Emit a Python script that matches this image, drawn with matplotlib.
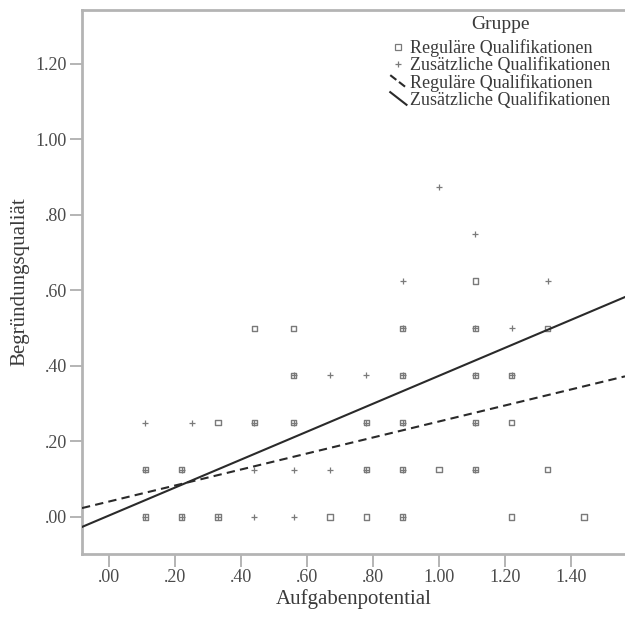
import numpy as np
import matplotlib
matplotlib.use("Agg")
import matplotlib.pyplot as plt
from matplotlib.lines import Line2D
from matplotlib.legend_handler import HandlerBase

plt.rcParams['font.family'] = ['Liberation Serif', 'DejaVu Serif']

# Reguläre Qualifikationen (hollow squares)
reg_x = [0.11, 0.22, 0.33, 0.89, 0.67, 0.78, 1.22, 1.44,
         0.11, 0.22, 0.78, 0.89, 1.11, 1.00, 1.33,
         0.44, 0.56, 0.78, 0.89, 1.11, 0.33, 1.22,
         0.56, 0.89, 1.11, 1.22,
         0.89, 1.11, 0.44, 0.56, 1.33,
         1.11]
reg_y = [0.000, 0.000, 0.000, 0.000, 0.000, 0.000, 0.000, 0.000,
         0.125, 0.125, 0.125, 0.125, 0.125, 0.125, 0.125,
         0.250, 0.250, 0.250, 0.250, 0.250, 0.250, 0.250,
         0.375, 0.375, 0.375, 0.375,
         0.500, 0.500, 0.500, 0.500, 0.500,
         0.625]

# Zusätzliche Qualifikationen (plus signs)
zus_x = [0.11, 0.22, 0.33, 0.89, 0.44, 0.56,
         0.11, 0.22, 0.78, 0.89, 1.11, 0.44, 0.56, 0.67,
         0.44, 0.56, 0.78, 0.89, 1.11, 0.11, 0.25,
         0.56, 0.89, 1.11, 1.22, 0.67, 0.78,
         0.89, 1.11, 1.22,
         0.89, 1.33,
         1.11,
         1.00]
zus_y = [0.000, 0.000, 0.000, 0.000, 0.000, 0.000,
         0.125, 0.125, 0.125, 0.125, 0.125, 0.125, 0.125, 0.125,
         0.250, 0.250, 0.250, 0.250, 0.250, 0.250, 0.250,
         0.375, 0.375, 0.375, 0.375, 0.375, 0.375,
         0.500, 0.500, 0.500,
         0.625, 0.625,
         0.750,
         0.875]

# linear fit lines (intercept, slope)
reg_fit = (0.041, 0.212)
zus_fit = (0.004, 0.370)

xticks = [0.0, 0.2, 0.4, 0.6, 0.8, 1.0, 1.2, 1.4]
yticks = [0.0, 0.2, 0.4, 0.6, 0.8, 1.0, 1.2]
xlim = (-0.082, 1.564)
ylim = (-0.098, 1.343)

def fmt(v):
    s = f"{v:.2f}"
    return s[1:] if s.startswith("0") else s


class DiagHandler(HandlerBase):
    # SPSS style slanted line sample
    def create_artists(self, legend, orig_handle, xdescent, ydescent,
                       width, height, fontsize, trans):
        ln = Line2D([0, width], [height, 0], color=orig_handle.get_color(),
                    linestyle=orig_handle.get_linestyle(),
                    linewidth=orig_handle.get_linewidth(), transform=trans)
        return [ln]


fig = plt.figure(figsize=(6.25, 6.21), dpi=100)
ax = fig.add_axes([0.1312, 0.1079, 0.8688, 0.876])

mk_col = '#7a7a7a'
ax.scatter(reg_x, reg_y, marker='s', s=15, facecolors='none', edgecolors=mk_col,
           linewidths=1.0, zorder=3)
ax.scatter(zus_x, zus_y, marker='+', s=24, color=mk_col, linewidths=0.9, zorder=3)

xx = np.array(xlim)
ax.plot(xx, reg_fit[0] + reg_fit[1] * xx, color='#2a2a2a', linestyle=(0, (4, 2.5)),
        linewidth=1.5, zorder=4)
ax.plot(xx, zus_fit[0] + zus_fit[1] * xx, color='#2a2a2a', linestyle='-',
        linewidth=1.5, zorder=4)

ax.set_xlim(*xlim)
ax.set_ylim(*ylim)
ax.set_xticks(xticks)
ax.set_yticks(yticks)
ax.set_xticklabels([fmt(v) for v in xticks])
ax.set_yticklabels([fmt(v) for v in yticks])

spine_col = '#b4b4b4'
for side in ['left', 'bottom', 'top']:
    ax.spines[side].set_color(spine_col)
    ax.spines[side].set_linewidth(2.0)
ax.spines['right'].set_visible(False)
ax.tick_params(axis='both', length=9, width=1.4, color=spine_col,
               labelsize=13, labelcolor='#4a4a4a', pad=2)

ax.set_xlabel('Aufgabenpotential', fontsize=15, color='#3a3a3a', labelpad=2)
ax.set_ylabel('Begründungsqualiät', fontsize=15, color='#3a3a3a', labelpad=4)

handles = [
    Line2D([], [], marker='s', linestyle='none', markersize=4, markerfacecolor='none',
           markeredgecolor=mk_col, markeredgewidth=0.9),
    Line2D([], [], marker='+', linestyle='none', markersize=5, color=mk_col,
           markeredgewidth=0.9),
    Line2D([], [], color='#2a2a2a', linestyle=(0, (2, 1.5)), linewidth=1.5),
    Line2D([], [], color='#2a2a2a', linestyle='-', linewidth=1.5),
]
labels = ['Reguläre Qualifikationen', 'Zusätzliche Qualifikationen',
          'Reguläre Qualifikationen', 'Zusätzliche Qualifikationen']
leg = ax.legend(handles, labels, title='Gruppe', loc='upper right',
                bbox_to_anchor=(0.993, 1.008), frameon=False, fontsize=13,
                title_fontsize=14, handlelength=0.9, handletextpad=0.2,
                labelspacing=0.0, borderaxespad=0.2,
                handler_map={handles[2]: DiagHandler(), handles[3]: DiagHandler()})
leg._legend_box.sep = 4  # small gap between title and entries
for t in leg.get_texts():
    t.set_color('#3a3a3a')
leg.get_title().set_color('#3a3a3a')

fig.savefig('out.png', dpi=100)
